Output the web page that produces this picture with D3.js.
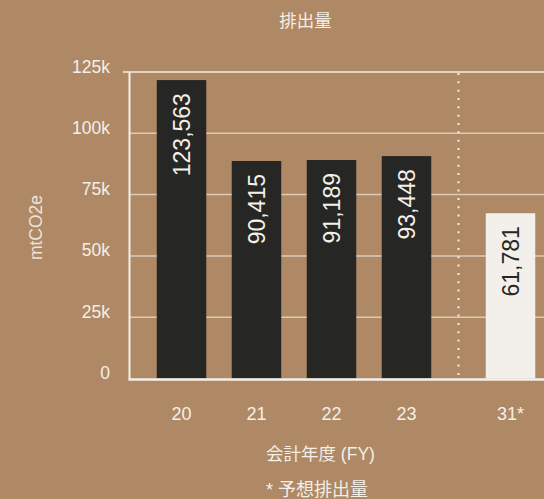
<!DOCTYPE html>
<html>
<head>
<meta charset="utf-8">
<script src="https://cdn.jsdelivr.net/npm/d3@7"></script>
<style>
  html, body { margin: 0; padding: 0; background: #af8965; }
  svg { display: block; }
  text { font-family: "Liberation Sans", Arial, "Noto Sans CJK JP", sans-serif; }
</style>
</head>
<body>
<svg id="chart" width="544" height="499"></svg>
<script>
// ---- data ----
const categories = ["20", "21", "22", "23"];
const forecastCategories = ["31*"];
// bar heights as drawn in the picture (mtCO2e)
const actualValues = [121700, 88700, 89100, 90700];
const forecastValues = [67400];
// value labels printed in the bars
const actualLabels = ["123,563", "90,415", "91,189", "93,448"];
const forecastLabels = ["61,781"];
const yTicks = [0, 25000, 50000, 75000, 100000, 125000];
const yTickLabels = ["0", "25k", "50k", "75k", "100k", "125k"];
const titleText = "排出量";
const xTitleText = "会計年度 (FY)";
const yTitleText = "mtCO2e";
const noteText = "* 予想排出量";

// ---- layout ----
const W = 544, H = 499;
const plotLeft = 129.5, plotRight = 544, plotTop = 72, plotBottom = 378.5;
const bg = "#af8965", cream = "#f4efe8", grid = "#dccbb8", dark = "#262624", light = "#f3f0eb";

const svg = d3.select("#chart");
svg.append("rect").attr("width", W).attr("height", H).attr("fill", bg);

const y = d3.scaleLinear().domain([0, 125000]).range([plotBottom, plotTop]);
const xMain = d3.scaleBand().domain(categories).range([144, 444]).paddingInner(0.34).paddingOuter(0.17);
const xFc = d3.scaleBand().domain(forecastCategories).range([473, 548]).paddingInner(0.34).paddingOuter(0.17);

// gridlines
svg.append("g").selectAll("line").data(yTicks.filter(t => t > 0 && t < 125000)).join("line")
  .attr("x1", plotLeft).attr("x2", plotRight)
  .attr("y1", d => y(d)).attr("y2", d => y(d))
  .attr("stroke", grid).attr("stroke-width", 1.5);

// top line
svg.append("line").attr("x1", 123).attr("x2", plotRight)
  .attr("y1", y(125000)).attr("y2", y(125000))
  .attr("stroke", cream).attr("stroke-width", 1.5);

// bars
const actual = categories.map((c, i) => ({ c, v: actualValues[i], label: actualLabels[i], x: xMain, fc: false }));
const forecast = forecastCategories.map((c, i) => ({ c, v: forecastValues[i], label: forecastLabels[i], x: xFc, fc: true }));
const all = actual.concat(forecast);

svg.append("g").selectAll("rect").data(all).join("rect")
  .attr("x", d => d.x(d.c))
  .attr("width", d => d.x.bandwidth())
  .attr("y", d => y(d.v))
  .attr("height", d => y(0) - y(d.v))
  .attr("fill", d => d.fc ? light : dark);

// value labels (rotated)
svg.append("g").selectAll("text").data(all).join("text")
  .attr("transform", d => `translate(${d.x(d.c) + d.x.bandwidth() / 2},${y(d.v) + 13}) rotate(-90)`)
  .attr("text-anchor", "end")
  .attr("dy", "0.36em")
  .attr("font-size", 23)
  .attr("fill", d => d.fc ? dark : cream)
  .text(d => d.label);

// y axis line
svg.append("line").attr("x1", plotLeft).attr("x2", plotLeft)
  .attr("y1", plotTop).attr("y2", plotBottom + 1)
  .attr("stroke", cream).attr("stroke-width", 2);

// baseline
svg.append("line").attr("x1", plotLeft - 1).attr("x2", plotRight)
  .attr("y1", y(0) + 1).attr("y2", y(0) + 1)
  .attr("stroke", cream).attr("stroke-width", 2.5);

// dotted separator
const sepX = (xMain(categories[categories.length - 1]) + xMain.bandwidth() + xFc(forecastCategories[0])) / 2;
svg.append("line").attr("x1", sepX).attr("x2", sepX)
  .attr("y1", plotTop + 1).attr("y2", plotBottom)
  .attr("stroke", cream).attr("stroke-width", 2)
  .attr("stroke-dasharray", "2,6.33");

// y tick labels
svg.append("g").selectAll("text").data(yTicks).join("text")
  .attr("x", 110).attr("y", d => y(d) + 0.5)
  .attr("text-anchor", "end")
  .attr("font-size", 17.5)
  .attr("fill", cream)
  .text((d, i) => yTickLabels[i]);

// x tick labels
svg.append("g").selectAll("text").data(all).join("text")
  .attr("x", d => d.x(d.c) + d.x.bandwidth() / 2)
  .attr("y", 420)
  .attr("text-anchor", "middle")
  .attr("font-size", 18)
  .attr("fill", cream)
  .text(d => d.c);

// title
svg.append("text").attr("x", 305.5).attr("y", 27)
  .attr("text-anchor", "middle").attr("font-size", 17.5).attr("fill", cream)
  .text(titleText);

// x axis title
svg.append("text").attr("x", 266).attr("y", 459.5)
  .attr("text-anchor", "start").attr("font-size", 17.5).attr("fill", cream)
  .text(xTitleText);

// note
svg.append("text").attr("x", 266).attr("y", 496)
  .attr("text-anchor", "start").attr("font-size", 18).attr("fill", cream)
  .text(noteText);

// y axis title
svg.append("text")
  .attr("transform", `translate(36,227.5) rotate(-90)`)
  .attr("text-anchor", "middle").attr("dy", "0.35em")
  .attr("font-size", 17.5).attr("fill", cream).attr("fill-opacity", 0.9)
  .text(yTitleText);
</script>
</body>
</html>
